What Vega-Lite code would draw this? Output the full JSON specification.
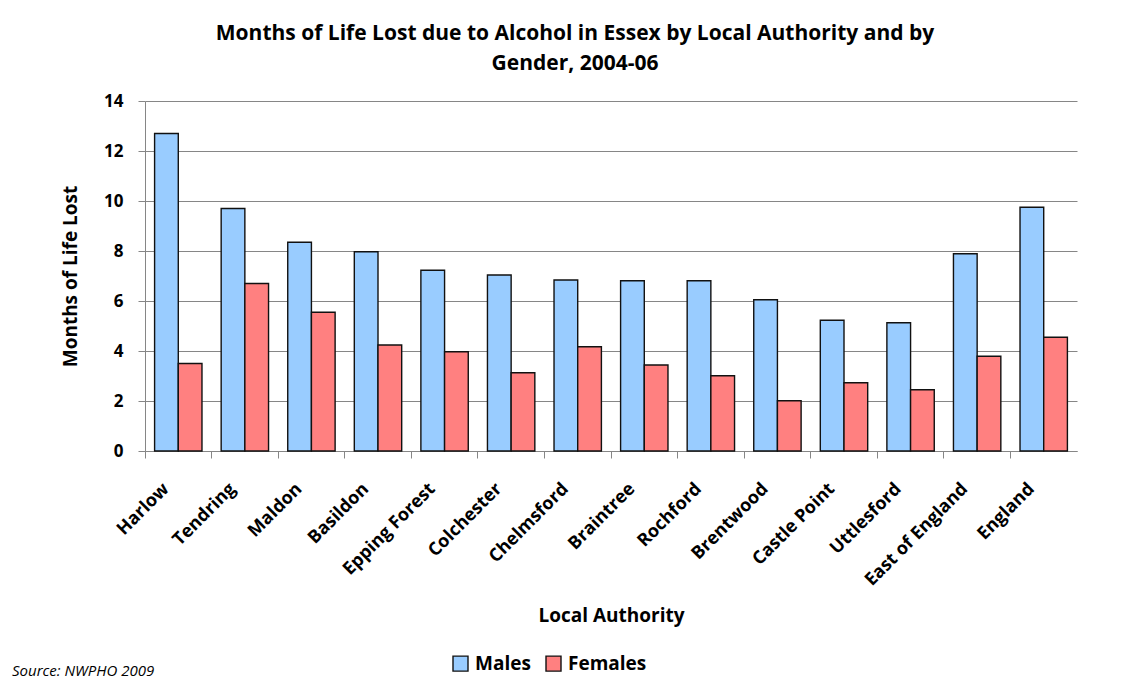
{
  "$schema": "https://vega.github.io/schema/vega-lite/v6.json",
  "width": 932,
  "height": 350,
  "autosize": {"type": "none"},
  "padding": {"left": 145, "top": 101, "right": 61, "bottom": 243},
  "background": "white",
  "title": {
    "text": ["Months of Life Lost due to Alcohol in Essex by Local Authority and by", "Gender, 2004-06"],
    "anchor": "middle",
    "frame": "group",
    "dx": -36,
    "offset": 18,
    "font": "Open Sans",
    "fontSize": 21,
    "fontWeight": "bold",
    "lineHeight": 30,
    "color": "black"
  },
  "data": {
    "values": [
      {"authority": "Harlow", "gender": "Males", "months": 12.7},
      {"authority": "Harlow", "gender": "Females", "months": 3.5},
      {"authority": "Tendring", "gender": "Males", "months": 9.7},
      {"authority": "Tendring", "gender": "Females", "months": 6.7},
      {"authority": "Maldon", "gender": "Males", "months": 8.35},
      {"authority": "Maldon", "gender": "Females", "months": 5.55},
      {"authority": "Basildon", "gender": "Males", "months": 7.97},
      {"authority": "Basildon", "gender": "Females", "months": 4.24},
      {"authority": "Epping Forest", "gender": "Males", "months": 7.23},
      {"authority": "Epping Forest", "gender": "Females", "months": 3.97},
      {"authority": "Colchester", "gender": "Males", "months": 7.04},
      {"authority": "Colchester", "gender": "Females", "months": 3.13},
      {"authority": "Chelmsford", "gender": "Males", "months": 6.84},
      {"authority": "Chelmsford", "gender": "Females", "months": 4.17},
      {"authority": "Braintree", "gender": "Males", "months": 6.81},
      {"authority": "Braintree", "gender": "Females", "months": 3.44},
      {"authority": "Rochford", "gender": "Males", "months": 6.81},
      {"authority": "Rochford", "gender": "Females", "months": 3.01},
      {"authority": "Brentwood", "gender": "Males", "months": 6.05},
      {"authority": "Brentwood", "gender": "Females", "months": 2.01},
      {"authority": "Castle Point", "gender": "Males", "months": 5.23},
      {"authority": "Castle Point", "gender": "Females", "months": 2.73},
      {"authority": "Uttlesford", "gender": "Males", "months": 5.13},
      {"authority": "Uttlesford", "gender": "Females", "months": 2.45},
      {"authority": "East of England", "gender": "Males", "months": 7.89},
      {"authority": "East of England", "gender": "Females", "months": 3.79},
      {"authority": "England", "gender": "Males", "months": 9.75},
      {"authority": "England", "gender": "Females", "months": 4.55}
    ]
  },
  "mark": {"type": "bar", "stroke": "#111111", "strokeWidth": 1.4},
  "encoding": {
    "x": {
      "field": "authority",
      "type": "nominal",
      "sort": null,
      "scale": {"paddingInner": 0, "paddingOuter": 0},
      "axis": {
        "title": "Local Authority",
        "titleFont": "Open Sans",
        "titleFontSize": 19,
        "titleFontWeight": "bold",
        "titleColor": "black",
        "titleBaseline": "middle",
        "titleY": 164,
        "labelAngle": -45,
        "labelAlign": "right",
        "labelBaseline": "middle",
        "labelPadding": 28,
        "labelOffset": -12,
        "labelFont": "Open Sans",
        "labelFontSize": 18,
        "labelFontWeight": "bold",
        "labelColor": "black",
        "bandPosition": 0,
        "tickSize": 7,
        "tickColor": "#868686",
        "domainColor": "#868686",
        "grid": false
      }
    },
    "xOffset": {
      "field": "gender",
      "type": "nominal",
      "sort": ["Males", "Females"],
      "scale": {"paddingInner": 0, "paddingOuter": 0.405}
    },
    "y": {
      "field": "months",
      "type": "quantitative",
      "scale": {"domain": [0, 14]},
      "axis": {
        "title": "Months of Life Lost",
        "titleFont": "Open Sans",
        "titleFontSize": 19,
        "titleFontWeight": "bold",
        "titleColor": "black",
        "titleBaseline": "middle",
        "titleX": -75,
        "values": [0, 2, 4, 6, 8, 10, 12, 14],
        "labelFont": "Open Sans",
        "labelFontSize": 17,
        "labelFontWeight": "bold",
        "labelColor": "black",
        "labelPadding": 15,
        "tickSize": 7,
        "tickColor": "#868686",
        "domainColor": "#868686",
        "gridColor": "#868686",
        "gridWidth": 1
      }
    },
    "color": {
      "field": "gender",
      "type": "nominal",
      "scale": {"domain": ["Males", "Females"], "range": ["#99CCFF", "#FF8080"]},
      "legend": {
        "orient": "none",
        "direction": "horizontal",
        "legendX": -133,
        "legendY": 553,
        "title": "Source: NWPHO 2009",
        "titleOrient": "left",
        "titleFont": "Open Sans",
        "titleFontSize": 15,
        "titleFontStyle": "italic",
        "titleFontWeight": "normal",
        "titleColor": "black",
        "titleBaseline": "top",
        "titlePadding": 296,
        "symbolType": "square",
        "symbolSize": 225,
        "symbolFillOpacity": 1,
        "symbolStrokeColor": "#111111",
        "symbolStrokeWidth": 1.4,
        "labelFont": "Open Sans",
        "labelFontSize": 19,
        "labelFontWeight": "bold",
        "labelColor": "black",
        "labelOffset": 5,
        "columnPadding": 12
      }
    }
  },
  "config": {"view": {"stroke": null}}
}
